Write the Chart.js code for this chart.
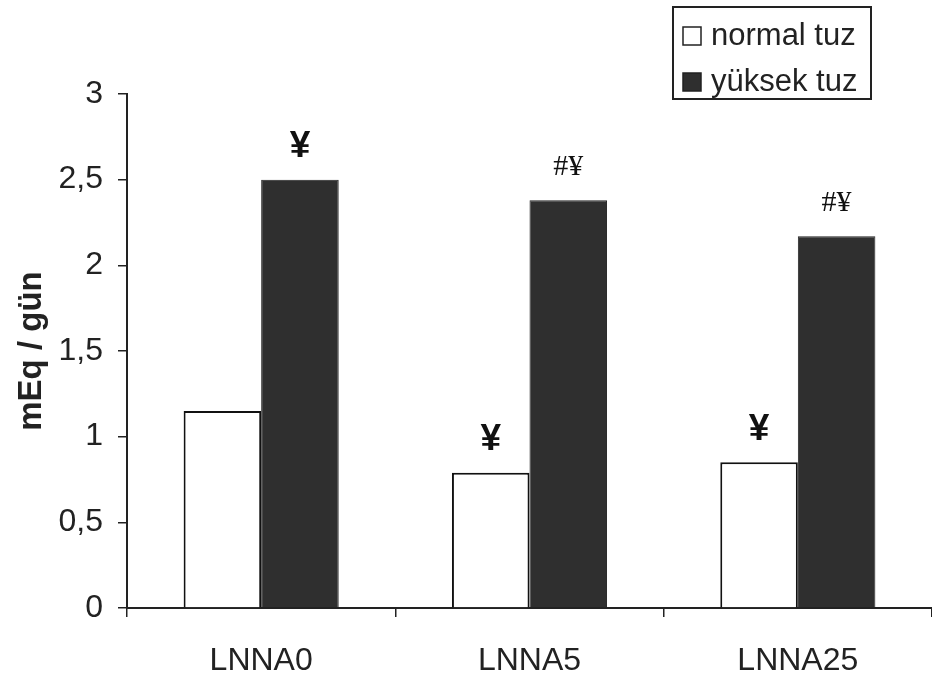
<!DOCTYPE html>
<html>
<head>
<meta charset="utf-8">
<script src="https://cdn.jsdelivr.net/npm/chart.js@4"></script>
<style>
html, body { margin: 0; padding: 0; background: #fff; }
canvas { display: block; }
</style>
</head>
<body>
<canvas id="chart" width="932" height="679"></canvas>
<script>
const groups = ["LNNA0", "LNNA5", "LNNA25"];
const seriesNames = ["normal tuz", "yüksek tuz"];
const normalSalt = [1.15, 0.79, 0.85];
const highSalt = [2.5, 2.38, 2.17];
const normalMarks = ["", "¥", "¥"];
const highMarks = ["¥", "#¥", "#¥"];
const yMin = 0, yMax = 3, yStep = 0.5;

Chart.defaults.font.family = "'Liberation Sans', Arial, sans-serif";
Chart.defaults.color = "#222";

// significance marks above the bars
const marksPlugin = {
    id: "marks",
    afterDatasetsDraw(chart) {
        const ctx = chart.ctx;
        [normalMarks, highMarks].forEach((marks, di) => {
            chart.getDatasetMeta(di).data.forEach((bar, i) => {
                const txt = marks[i];
                if (!txt) return;
                ctx.save();
                ctx.font = txt.includes("#")
                    ? "30px 'Liberation Serif', serif"
                    : "bold 37px 'Liberation Sans', Arial, sans-serif";
                ctx.fillStyle = "#111";
                ctx.textAlign = "center";
                ctx.textBaseline = "middle";
                ctx.fillText(txt, bar.x, bar.y - 33);
                ctx.restore();
            });
        });
    }
};

// boxed legend in the top right corner
const boxLegend = {
    id: "boxLegend",
    afterDraw(chart) {
        const ctx = chart.ctx;
        ctx.save();
        ctx.lineWidth = 2;
        ctx.strokeStyle = "#222";
        ctx.strokeRect(673, 7, 198, 92);
        chart.data.datasets.forEach((ds, i) => {
            const y = 36 + i * 46;
            ctx.fillStyle = ds.backgroundColor;
            ctx.fillRect(683, y - 9, 18, 18);
            ctx.lineWidth = 1.5;
            ctx.strokeStyle = "#222";
            ctx.strokeRect(683, y - 9, 18, 18);
            ctx.fillStyle = "#222";
            ctx.font = "31px 'Liberation Sans', Arial, sans-serif";
            ctx.textAlign = "left";
            ctx.textBaseline = "middle";
            ctx.fillText(ds.label, 711, y);
        });
        ctx.restore();
    }
};

new Chart(document.getElementById("chart"), {
    type: "bar",
    data: {
        labels: groups,
        datasets: [{
            label: seriesNames[0],
            data: normalSalt,
            backgroundColor: "#ffffff",
            borderColor: "#111",
            borderWidth: 2
        }, {
            label: seriesNames[1],
            data: highSalt,
            backgroundColor: "#2f2f2f",
            borderColor: "#222",
            borderWidth: 1
        }]
    },
    options: {
        responsive: false,
        animation: false,
        layout: { padding: { top: 94, right: 0, left: 0, bottom: 0 } },
        datasets: {
            bar: { barPercentage: 1, categoryPercentage: 0.578 }
        },
        plugins: {
            legend: { display: false },
            tooltip: { enabled: false }
        },
        scales: {
            x: {
                afterFit(scale) { scale.height = 71; },
                grid: {
                    drawOnChartArea: false,
                    drawTicks: true,
                    tickLength: 9,
                    color: "#222",
                    lineWidth: 1.5
                },
                border: { display: true, color: "#222", width: 2 },
                ticks: {
                    padding: 25,
                    color: "#222",
                    font: { size: 32 }
                }
            },
            y: {
                min: yMin,
                max: yMax,
                afterFit(scale) { scale.width = 127; },
                grid: {
                    drawOnChartArea: false,
                    drawTicks: true,
                    tickLength: 9,
                    color: "#222",
                    lineWidth: 1.5
                },
                border: { display: true, color: "#222", width: 2 },
                ticks: {
                    stepSize: yStep,
                    padding: 15,
                    color: "#222",
                    font: { size: 32 },
                    callback: v => String(v).replace(".", ",")
                },
                title: {
                    display: true,
                    text: "mEq / gün",
                    color: "#222",
                    font: { size: 33, weight: "bold" },
                    padding: { top: 12, bottom: 0 }
                }
            }
        }
    },
    plugins: [marksPlugin, boxLegend]
});
</script>
</body>
</html>
